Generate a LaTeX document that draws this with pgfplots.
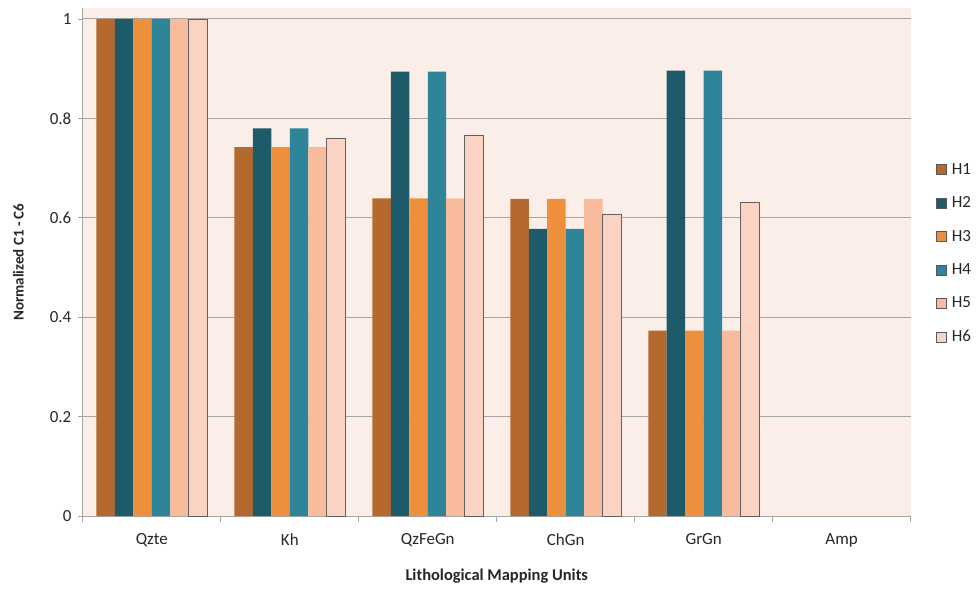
\documentclass[border=0pt]{standalone}
\usepackage{pgfplots}
\pgfplotsset{compat=1.18}
\usepackage{fontspec}
\setmainfont{Carlito}
\definecolor{cH1}{HTML}{B46A2E}
\definecolor{cH2}{HTML}{1E5A6A}
\definecolor{cH3}{HTML}{EE8F3E}
\definecolor{cH4}{HTML}{2E8499}
\definecolor{cH5}{HTML}{F8BC9C}
\definecolor{cH6}{HTML}{FAD3C3}
\definecolor{bgc}{HTML}{FBEEE8}
\definecolor{gridc}{HTML}{A6A6A6}
\definecolor{txt}{HTML}{262626}
\begin{document}
\begin{tikzpicture}
\begin{axis}[
  name=ax,
  scale only axis,
  width=829pt, height=509pt,
  ybar=0pt, bar width=18.5pt,
  xmin=-0.5, xmax=5.5,
  ymin=0, ymax=1.022,
  xtick={0,1,2,3,4,5},
  xticklabels={Qzte,Kh,QzFeGn,ChGn,GrGn,Amp},
  minor xtick={-0.5,0.5,1.5,2.5,3.5,4.5,5.5},
  ytick={0,0.2,0.4,0.6,0.8,1},
  yticklabels={0,0.2,0.4,0.6,0.8,1},
  /pgf/number format/assume math mode=true,
  tick align=outside,
  major tick length=5pt, minor tick length=6pt,
  major x tick style={draw=none},
  tick style={gridc, line width=0.8pt},
  ymajorgrids,
  major grid style={gridc, line width=0.9pt},
  axis x line*=bottom, axis y line*=left,
  axis line style={gridc, line width=0.9pt, -},
  axis background/.style={fill=bgc},
  ticklabel style={font=\fontsize{17}{20}\selectfont, text=txt},
  xticklabel style={yshift=-9pt},
  yticklabel style={xshift=-3pt},
  xlabel={Lithological Mapping Units},
  ylabel={Normalized C1 - C6},
  xlabel style={at={(axis description cs:0.5,-0.118)}, anchor=center, font=\fontsize{16.5}{19}\selectfont\bfseries, text=txt},
  ylabel style={at={(axis description cs:-0.078,0.5)}, anchor=center, font=\fontsize{15}{18}\selectfont\bfseries, text=txt},
  legend style={at={(axis description cs:1.031,0.695)}, anchor=north west, draw=none, fill=none,
    font=\fontsize{17}{20}\selectfont, text=txt, row sep=21pt, inner sep=0pt,
    nodes={inner xsep=5pt, inner ysep=0pt}},
  legend cell align=left,
  legend image code/.code={\draw[#1, draw=gray!70!black, line width=0.4pt] (0pt,-5pt) rectangle (10pt,5pt);},
]
\addplot[fill=cH1, draw=none] coordinates {(0,1) (1,0.742) (2,0.639) (3,0.638) (4,0.373)};
\addplot[fill=cH2, draw=none] coordinates {(0,1) (1,0.780) (2,0.894) (3,0.578) (4,0.896)};
\addplot[fill=cH3, draw=none] coordinates {(0,1) (1,0.742) (2,0.639) (3,0.638) (4,0.373)};
\addplot[fill=cH4, draw=none] coordinates {(0,1) (1,0.780) (2,0.894) (3,0.578) (4,0.896)};
\addplot[fill=cH5, draw=none] coordinates {(0,1) (1,0.742) (2,0.639) (3,0.638) (4,0.373)};
\addplot[fill=cH6, draw=gray!75!black, line width=0.7pt] coordinates {(0,1) (1,0.760) (2,0.765) (3,0.608) (4,0.631)};
\legend{H1,H2,H3,H4,H5,H6}
\end{axis}
\path[use as bounding box] ([xshift=-83pt,yshift=-73pt]ax.south west) rectangle ([xshift=64pt,yshift=8pt]ax.north east);
\end{tikzpicture}
\end{document}
